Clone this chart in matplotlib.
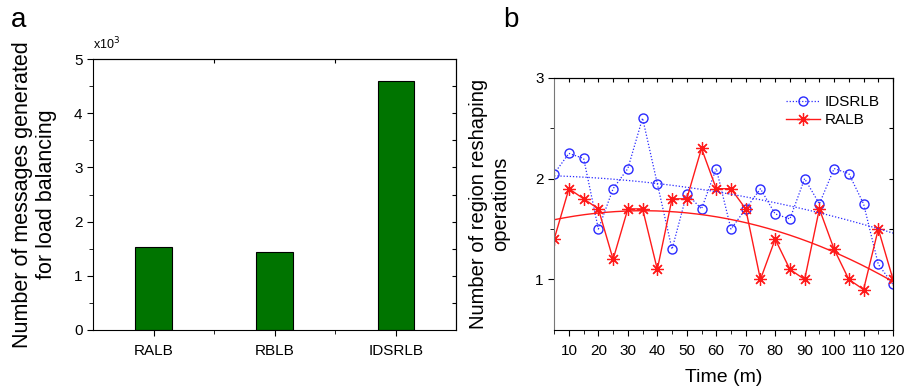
import matplotlib
matplotlib.use('Agg')
import matplotlib.pyplot as plt
import numpy as np

plt.rcParams['font.family'] = ['Liberation Sans', 'DejaVu Sans']

# panel a
methods = ['RALB', 'RBLB', 'IDSRLB']
messages_k = [1.53, 1.43, 4.59]

# panel b
times = [5, 10, 15, 20, 25, 30, 35, 40, 45, 50, 55, 60,
         65, 70, 75, 80, 85, 90, 95, 100, 105, 110, 115, 120]
idsrlb_ops = [2.05, 2.25, 2.2, 1.5, 1.9, 2.1, 2.6, 1.95, 1.3, 1.85, 1.7, 2.1,
              1.5, 1.7, 1.9, 1.65, 1.6, 2.0, 1.75, 2.1, 2.05, 1.75, 1.15, 0.95]
ralb_ops = [1.4, 1.9, 1.8, 1.7, 1.2, 1.7, 1.7, 1.1, 1.8, 1.8, 2.3, 1.9,
            1.9, 1.7, 1.0, 1.4, 1.1, 1.0, 1.7, 1.3, 1.0, 0.9, 1.5, 1.0]

blue = '#2a2aff'
red = '#ff1a1a'


def draw_bars(ax):
    x = np.arange(1, len(methods) + 1)
    ax.bar(x, messages_k, width=0.3, color='#007400', edgecolor='black', linewidth=0.8)
    ax.set_xlim(0.5, 3.5)
    ax.set_ylim(0, 5)
    ax.set_xticks(x)
    ax.set_xticklabels(methods)
    ax.set_xticks([1.5, 2.5], minor=True)
    ax.set_yticks(range(6))
    ax.set_yticks(np.arange(0.5, 5, 1), minor=True)
    ax.tick_params(which='both', direction='out', labelsize=11)
    ax.tick_params(axis='x', pad=6)
    ax.tick_params(which='major', length=4)
    ax.tick_params(which='minor', length=3)
    top = ax.secondary_xaxis('top')
    top.set_xticks([1.5, 2.5])
    top.tick_params(direction='in', length=3, labeltop=False)
    right = ax.secondary_yaxis('right')
    right.set_yticks(np.arange(0.5, 5, 0.5))
    right.tick_params(direction='in', length=3, labelright=False)
    ax.set_ylabel('Number of messages generated\nfor load balancing', fontsize=15.5, labelpad=12)
    ax.text(0.0, 1.025, r'x10$^3$', transform=ax.transAxes, fontsize=9, ha='left', va='bottom')


def draw_lines(ax):
    t = np.array(times)
    t_fit = np.linspace(5, 120, 200)

    ax.plot(t, idsrlb_ops, color=blue, linestyle=(0, (1, 1.5)), linewidth=0.9,
            marker='o', markersize=6.5, markerfacecolor='none', markeredgecolor=blue,
            markeredgewidth=1.0, label='IDSRLB')
    ax.plot(t, ralb_ops, color=red, linestyle='-', linewidth=1.0,
            marker=(8, 2, 0), markersize=9, markeredgecolor=red, markeredgewidth=0.9,
            label='RALB')

    fit_b = np.polyfit(t, idsrlb_ops, 2)
    ax.plot(t_fit, np.polyval(fit_b, t_fit), color=blue, linestyle=(0, (1, 1.5)), linewidth=0.9)
    fit_r = np.polyfit(t, ralb_ops, 2)
    ax.plot(t_fit, np.polyval(fit_r, t_fit), color=red, linestyle='-', linewidth=1.0)

    ax.set_xlim(5, 120)
    ax.set_ylim(0.5, 3)
    ax.set_xticks(range(10, 121, 10))
    ax.set_xticks(range(5, 121, 10), minor=True)
    ax.set_yticks([1, 2, 3])
    ax.set_yticks([1.5, 2.5], minor=True)
    ax.tick_params(which='both', direction='out', labelsize=11)
    ax.tick_params(axis='x', pad=6)
    ax.tick_params(which='major', length=4)
    ax.tick_params(which='minor', length=3)
    ax.spines['left'].set_color('#777777')
    top = ax.secondary_xaxis('top')
    top.set_xticks(range(10, 121, 5))
    top.tick_params(direction='in', length=3, labeltop=False)
    right = ax.secondary_yaxis('right')
    right.set_yticks(np.arange(1, 3, 0.5))
    right.tick_params(direction='in', length=3, labelright=False)
    ax.set_xlabel('Time (m)', fontsize=14, labelpad=8)
    ax.set_ylabel('Number of region reshaping\noperations', fontsize=14.5, labelpad=18)
    ax.legend(loc='upper right', bbox_to_anchor=(1.0, 0.985), frameon=False, fontsize=11,
              handlelength=2.2, handletextpad=0.3, labelspacing=0.25)


fig = plt.figure(figsize=(9.07, 3.89), dpi=100)
ax_a = fig.add_axes([0.1025, 0.152, 0.4005, 0.696])
ax_b = fig.add_axes([0.611, 0.152, 0.3736, 0.648])
draw_bars(ax_a)
draw_lines(ax_b)
fig.text(0.012, 0.93, 'a', fontsize=20)
fig.text(0.555, 0.93, 'b', fontsize=20)

fig.savefig('out.png', dpi=100)
